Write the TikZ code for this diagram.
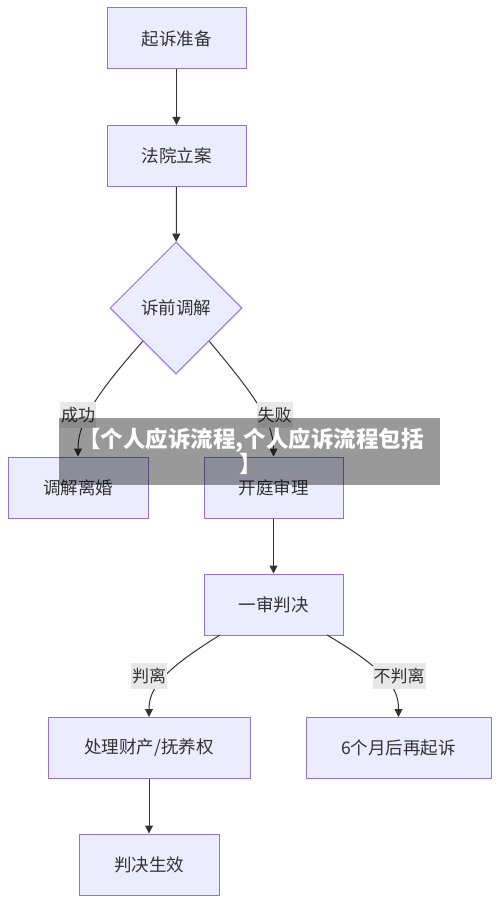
\documentclass[tikz,border=0pt]{standalone}
\usepackage{fontspec}
\setmainfont{Noto Sans CJK SC}
\usetikzlibrary{shapes.geometric,arrows.meta}
\definecolor{boxfill}{HTML}{ECECFF}
\definecolor{boxline}{HTML}{9370DB}
\definecolor{edgecol}{HTML}{333333}
\definecolor{lblbg}{HTML}{E8E8E8}
\begin{document}
\begin{tikzpicture}[x=1pt,y=-1pt,
  box/.style={draw=boxline, fill=boxfill, line width=1pt, minimum height=61pt, inner sep=0pt, font=\fontsize{17.5}{20}\selectfont, text=edgecol},
  dia/.style={draw=boxline, fill=boxfill, line width=1pt, diamond, minimum size=132pt, inner sep=0pt, font=\fontsize{17.5}{20}\selectfont, text=edgecol},
  lbl/.style={fill=lblbg, inner xsep=1pt, inner ysep=0pt, minimum height=26pt, font=\fontsize{17}{20}\selectfont, text=edgecol},
  arr/.style={draw=edgecol, line width=1pt, -{Triangle[length=8pt,width=8pt]}},
  wm/.style={fill=black, fill opacity=0.4, draw=none},
  wmtext/.style={text=white, font=\fontsize{22.5}{25}\selectfont\bfseries, align=center}]
\useasboundingbox (0,0) rectangle (500,904);
\fill[white] (0,0) rectangle (500,904);
\node[box, minimum width=139pt] (a) at (176.5,38.5) {起诉准备};
\node[box, minimum width=139pt] (b) at (176.5,156) {法院立案};
\node[dia] (c) at (176,308) {诉前调解};
\node[box, minimum width=140pt] (d) at (78,487.5) {调解离婚};
\node[box, minimum width=139pt] (e) at (273.5,487.5) {开庭审理};
\node[box, minimum width=139pt] (f) at (273.5,604.5) {一审判决};
\node[box, minimum width=202pt] (g) at (149,748) {处理财产/抚养权};
\node[box, minimum width=185pt] (h) at (398.5,748) {6个月后再起诉};
\node[box, minimum width=140pt] (i) at (149,864.5) {判决生效};
\coordinate (fl) at (220,635);
\coordinate (fr) at (327,635);
\draw[arr] (a) -- (b);
\draw[arr] (b) -- (c);
\draw[arr] (c.south west) .. controls (100,390) and (78,420) .. (d.north);
\draw[arr] (c.south east) .. controls (250,390) and (273.5,420) .. (e.north);
\draw[arr] (e) -- (f);
\draw[arr] (fl) .. controls (160,672) and (149,690) .. (g.north);
\draw[arr] (fr) .. controls (390,672) and (398.5,690) .. (h.north);
\draw[arr] (g) -- (i);
\node[lbl] (l1) at (78,415) {成功};
\node[lbl] (l2) at (274.5,415) {失败};
\node[lbl] (l3) at (149,676) {判离};
\node[lbl] (l4) at (399,676) {不判离};
\fill[wm] (59,418) rectangle (440,485);
\node[wmtext] (w) at (251,451) {【个人应诉流程,个人应诉流程包括\\】};
\end{tikzpicture}
\end{document}
